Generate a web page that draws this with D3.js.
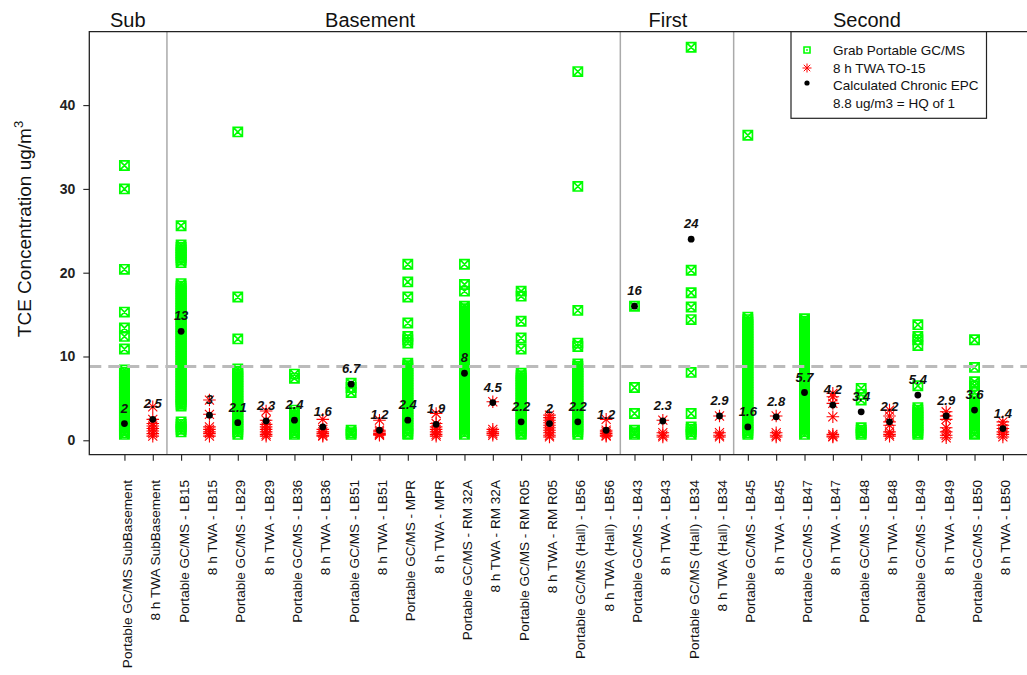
<!DOCTYPE html>
<html>
<head>
<meta charset="utf-8">
<script src="https://cdn.jsdelivr.net/npm/d3@7"></script>
<style>
  body { margin: 0; background: #fff; }
  svg { display: block; font-family: "Liberation Sans", Arial, sans-serif; }
</style>
</head>
<body>
<svg id="chart" width="1027" height="675"></svg>
<script>
// ---------------- DATA ----------------
const categories = [
  "Portable GC/MS SubBasement", "8 h TWA SubBasement",
  "Portable GC/MS - LB15", "8 h TWA - LB15",
  "Portable GC/MS - LB29", "8 h TWA - LB29",
  "Portable GC/MS - LB36", "8 h TWA - LB36",
  "Portable GC/MS - LB51", "8 h TWA - LB51",
  "Portable GC/MS - MPR", "8 h TWA - MPR",
  "Portable GC/MS - RM 32A", "8 h TWA - RM 32A",
  "Portable GC/MS - RM R05", "8 h TWA - RM R05",
  "Portable GC/MS (Hall) - LB56", "8 h TWA (Hall) - LB56",
  "Portable GC/MS - LB43", "8 h TWA - LB43",
  "Portable GC/MS (Hall) - LB34", "8 h TWA (Hall) - LB34",
  "Portable GC/MS - LB45", "8 h TWA - LB45",
  "Portable GC/MS - LB47", "8 h TWA - LB47",
  "Portable GC/MS - LB48", "8 h TWA - LB48",
  "Portable GC/MS - LB49", "8 h TWA - LB49",
  "Portable GC/MS - LB50", "8 h TWA - LB50"
];

const floorNames = ["Sub", "Basement", "First", "Second"];
const floorFirstCategory = [0, 2, 18, 22];
const floorLabelAt = [0.12, 8.67, 19.18, 26.2];

// Grab Portable GC/MS readings (ug/m3), one list per category
const grabValues = [
  [32.8,30.0,20.4,15.3,13.4,12.4,10.9,8.4,8.1,7.8,7.5,7.2,6.9,6.6,6.3,6.0,5.7,5.4,5.1,4.8,4.5,4.2,3.9,3.6,3.3,3.0,2.7,2.4,2.1,1.8,1.5,1.2,0.9,0.7],
  [],
  [25.6,23.3,23.0,22.7,22.4,22.1,21.8,21.5,21.2,18.7,18.4,18.1,17.8,17.5,17.2,16.9,16.6,16.3,16.0,15.7,15.4,15.1,14.8,14.5,14.2,13.9,13.6,13.3,13.0,12.7,12.4,12.1,11.8,11.5,11.2,10.9,10.6,10.3,10.0,9.7,9.4,9.1,8.8,8.5,8.2,7.9,7.6,7.3,7.0,6.7,6.4,6.1,5.8,5.5,5.2,4.9,4.6,4.3,4.1,2.2,1.9,1.6,1.3,1.0],
  [],
  [36.8,17.1,12.1,8.5,8.2,7.9,7.6,7.3,7.0,6.7,6.4,6.1,5.8,5.5,5.2,4.9,4.6,4.3,4.0,3.7,3.4,3.1,2.8,2.5,2.2,1.9,1.6,1.3,1.0,0.7],
  [],
  [7.9,7.4,3.6,3.3,3.0,2.7,2.4,2.1,1.8,1.5,1.2,0.9,0.7],
  [],
  [6.8,6.3,5.7,1.2,0.9,0.7],
  [],
  [21.0,18.9,17.1,14.0,12.4,12.0,11.6,9.2,8.9,8.6,8.3,8.0,7.7,7.4,7.1,6.8,6.5,6.2,5.9,5.6,5.3,5.0,4.7,4.4,4.1,3.8,3.5,3.2,2.9,2.6,2.3,2.0,1.7,1.4,1.1,0.8,0.7],
  [],
  [21.0,18.6,17.8,16.0,15.7,15.4,15.1,14.8,14.5,14.2,13.9,13.6,13.3,13.0,12.7,12.4,12.1,11.8,11.5,11.2,10.9,10.6,10.3,10.0,9.7,9.4,9.1,8.8,8.5,8.2,7.9,7.6,7.3,7.0,6.7,6.4,6.1,5.8,5.5,5.2,4.9,4.6,4.3,4.0,3.7,3.4,3.1,2.8,2.5,2.2,1.9,1.6,1.3,1.0,0.7],
  [],
  [17.8,17.2,14.2,12.2,10.9,8.0,7.7,7.4,7.1,6.8,6.5,6.2,5.9,5.6,5.3,5.0,4.7,4.4,4.1,3.8,3.5,3.2,2.9,2.6,2.3,2.0,1.7,1.4,1.1,0.8,0.7],
  [],
  [44.0,30.3,15.5,11.6,11.2,9.1,8.8,8.5,8.2,7.9,7.6,7.3,7.0,6.7,6.4,6.1,5.8,5.5,5.2,4.9,4.6,4.3,4.0,3.7,3.4,3.1,2.8,2.5,2.2,1.9,1.6,1.3,1.0,0.7],
  [],
  [16.0,6.3,3.2,1.2,0.9,0.7],
  [],
  [46.9,20.3,17.6,15.9,14.4,8.1,3.2,1.6,1.3,1.0,0.7],
  [],
  [36.4,14.7,14.4,14.1,13.8,13.5,13.2,12.9,12.6,12.3,12.0,11.7,11.4,11.1,10.8,10.5,10.2,9.9,9.6,9.3,9.0,8.7,8.4,8.1,7.8,7.5,7.2,6.9,6.6,6.3,6.0,5.7,5.4,5.1,4.8,4.5,4.2,3.9,3.6,3.3,3.0,2.7,2.4,2.1,1.8,1.5,1.2,0.9,0.7],
  [],
  [14.5,14.2,13.9,13.6,13.3,13.0,12.7,12.4,12.1,11.8,11.5,11.2,10.9,10.6,10.3,10.0,9.7,9.4,9.1,8.8,8.5,8.2,7.9,7.6,7.3,7.0,6.7,6.4,6.1,5.8,5.5,5.2,4.9,4.6,4.3,4.0,3.7,3.4,3.1,2.8,2.5,2.2,1.9,1.6,1.3,1.0,0.7],
  [],
  [6.2,5.5,4.8,1.5,1.2,0.9,0.7],
  [],
  [13.8,12.4,12.0,11.3,6.5,3.9,3.6,3.3,3.0,2.7,2.4,2.1,1.8,1.5,1.2,0.9,0.7],
  [],
  [12.0,8.7,7.0,6.5,5.7,5.0,4.7,4.4,4.1,3.8,3.5,3.2,2.9,2.6,2.3,2.0,1.7,1.4,1.1,0.8,0.7],
  []
];

// 8 h TWA TO-15 results (ug/m3), one list per category
const twaValues = [
  [], [4.0,2.5,2.0,1.7,1.4,1.1,0.8,0.5],
  [], [4.8,3.1,1.6,1.3,1.0,0.8,0.5],
  [], [3.5,2.4,1.9,1.6,1.3,1.0,0.7,0.5],
  [], [2.5,1.3,1.0,0.8,0.6,0.5],
  [], [2.4,1.2,1.0,0.8,0.7,0.6],
  [], [3.2,2.0,1.6,1.3,1.0,0.7,0.5],
  [], [4.6,1.3,1.0,0.8,0.6],
  [], [3.0,2.7,2.4,2.1,1.8,1.5,1.2,0.9,0.6,0.4],
  [], [2.5,1.2,1.0,0.8,0.6,0.5],
  [], [2.4,0.9,0.6,0.4],
  [], [2.9,0.9,0.6,0.4],
  [], [2.9,0.9,0.6,0.4],
  [], [5.6,5.2,4.4,2.8,0.7,0.5,0.4],
  [], [3.6,2.9,2.2,1.8,1.0,0.7,0.5],
  [], [3.4,2.9,2.5,1.5,1.0,0.6,0.3],
  [], [2.2,1.8,1.4,1.0,0.7,0.4]
];

// Calculated chronic EPC per category
const epcValues = [2, 2.5, 13, 3, 2.1, 2.3, 2.4, 1.6, 6.7, 1.2, 2.4, 1.9, 8, 4.5, 2.2, 2,
                   2.2, 1.2, 16, 2.3, 24, 2.9, 1.6, 2.8, 5.7, 4.2, 3.4, 2.2, 5.4, 2.9, 3.6, 1.4];

const hqThreshold = 8.8;
const yTicks = [0, 10, 20, 30, 40];
const legendLabels = ["Grab Portable GC/MS", "8 h TWA TO-15", "Calculated Chronic EPC", "8.8 ug/m3 = HQ of 1"];

// ---------------- LAYOUT ----------------
const svg = d3.select("#chart");
const pL = 89.3, pR = 1038, pT = 31.7, pB = 454.7;

const x = d3.scalePoint().domain(categories).range([pL, pR]).padding(1.24);
const xi = d3.scaleLinear().domain([0, categories.length - 1]).range([x(categories[0]), x(categories[categories.length - 1])]);
const y = d3.scaleLinear().domain([-1.72, 48.76]).range([pB, pT]);

const GREEN = "#00ff00", RED = "#ff0000";

const squarePath = (s) => `M${-s},${-s}H${s}V${s}H${-s}Z M${-s},${-s}L${s},${s} M${s},${-s}L${-s},${s}`;
const starPath = (s) => {
  const d = s * 0.72;
  return `M${-s},0H${s} M0,${-s}V${s} M${-d},${-d}L${d},${d} M${d},${-d}L${-d},${d}`;
};

// floor separators
const sepX = floorFirstCategory.slice(1).map(i => (xi(i) + xi(i - 1)) / 2);
svg.append("g").selectAll("line").data(sepX).join("line")
  .attr("x1", d => d).attr("x2", d => d).attr("y1", pT).attr("y2", pB)
  .attr("stroke", "#aaaaaa").attr("stroke-width", 1.5);

// grab points
const grabPts = [];
grabValues.forEach((arr, i) => arr.forEach(v => grabPts.push({c: categories[i], v})));
svg.append("g").selectAll("path").data(grabPts).join("path")
  .attr("transform", d => `translate(${x(d.c)},${y(d.v)})`)
  .attr("d", squarePath(4.6))
  .attr("fill", "none").attr("stroke", GREEN).attr("stroke-width", 1.7);

// TWA points
const twaPts = [];
twaValues.forEach((arr, i) => arr.forEach(v => twaPts.push({c: categories[i], v})));
svg.append("g").selectAll("path").data(twaPts).join("path")
  .attr("transform", d => `translate(${x(d.c)},${y(d.v)})`)
  .attr("d", starPath(6.3))
  .attr("fill", "none").attr("stroke", RED).attr("stroke-width", 1.1);

// EPC dots
svg.append("g").selectAll("circle").data(epcValues).join("circle")
  .attr("cx", (d, i) => x(categories[i])).attr("cy", d => y(d)).attr("r", 3.4)
  .attr("fill", "#000");

// HQ dashed line
svg.append("line")
  .attr("x1", pL).attr("x2", pR).attr("y1", y(hqThreshold)).attr("y2", y(hqThreshold))
  .attr("stroke", "#bbbbbb").attr("stroke-width", 3).attr("stroke-dasharray", "12,7");

// EPC labels
svg.append("g").selectAll("text").data(epcValues).join("text")
  .attr("x", (d, i) => x(categories[i])).attr("y", d => y(d) - 11)
  .attr("text-anchor", "middle")
  .attr("font-size", 13).attr("font-weight", "bold").attr("font-style", "italic")
  .attr("fill", "#111")
  .text(d => String(d));

// frame (left, top, bottom)
svg.append("path")
  .attr("d", `M${pR},${pT}H${pL}V${pB}H${pR}`)
  .attr("fill", "none").attr("stroke", "#222").attr("stroke-width", 1.3);

// y axis
const yAxis = svg.append("g").attr("transform", `translate(${pL},0)`)
  .call(d3.axisLeft(y).tickValues(yTicks).tickSize(6).tickPadding(8));
yAxis.select(".domain").remove();
yAxis.selectAll(".tick line").attr("stroke", "#222").attr("stroke-width", 1.1);
yAxis.selectAll(".tick text").attr("font-size", 14).attr("fill", "#222")
  .attr("font-family", "Liberation Sans, Arial, sans-serif").attr("font-weight", "bold");

// x axis
const xAxis = svg.append("g").attr("transform", `translate(0,${pB})`)
  .call(d3.axisBottom(x).tickSize(6).tickFormat(""));
xAxis.select(".domain").remove();
xAxis.selectAll(".tick line").attr("stroke", "#222").attr("stroke-width", 1.1);

// x labels rotated
svg.append("g").selectAll("text").data(categories).join("text")
  .attr("transform", d => `translate(${x(d)},480) rotate(-90)`)
  .attr("text-anchor", "end").attr("dy", "0.55em")
  .attr("font-size", 13.6).attr("fill", "#111")
  .text(d => d);

// floor titles
svg.append("g").selectAll("text").data(floorNames).join("text")
  .attr("x", (d, i) => xi(floorLabelAt[i])).attr("y", 26.5)
  .attr("text-anchor", "middle").attr("font-size", 20).attr("fill", "#111")
  .text(d => d);

// y label
const yl = svg.append("text")
  .attr("transform", `translate(31,229) rotate(-90)`)
  .attr("text-anchor", "middle").attr("font-size", 19).attr("fill", "#111");
yl.append("tspan").text("TCE Concentration  ug/m");
yl.append("tspan").attr("dy", -8).attr("font-size", 13).text("3");

// legend
const lg = svg.append("g");
lg.append("rect").attr("x", 791).attr("y", pT).attr("width", 195.5).attr("height", 86.6)
  .attr("fill", "#fff").attr("stroke", "#222").attr("stroke-width", 1.2);
const legY = [50, 68, 85, 103];
lg.append("path").attr("transform", `translate(807,${legY[0]})`).attr("d", `M-3,-3H3V3H-3Z`)
  .attr("fill", "none").attr("stroke", GREEN).attr("stroke-width", 1.6);
lg.append("circle").attr("cx", 807).attr("cy", legY[0]).attr("r", 0.9).attr("fill", GREEN);
lg.append("path").attr("transform", `translate(807,${legY[1]})`).attr("d", starPath(4.5))
  .attr("fill", "none").attr("stroke", RED).attr("stroke-width", 1);
lg.append("circle").attr("cx", 807).attr("cy", legY[2] - 2).attr("r", 2.6).attr("fill", "#000");
lg.selectAll("text").data(legendLabels).join("text")
  .attr("x", 833).attr("y", (d, i) => legY[i] + 5)
  .attr("font-size", 13.5).attr("fill", "#111")
  .text(d => d);
</script>
</body>
</html>
